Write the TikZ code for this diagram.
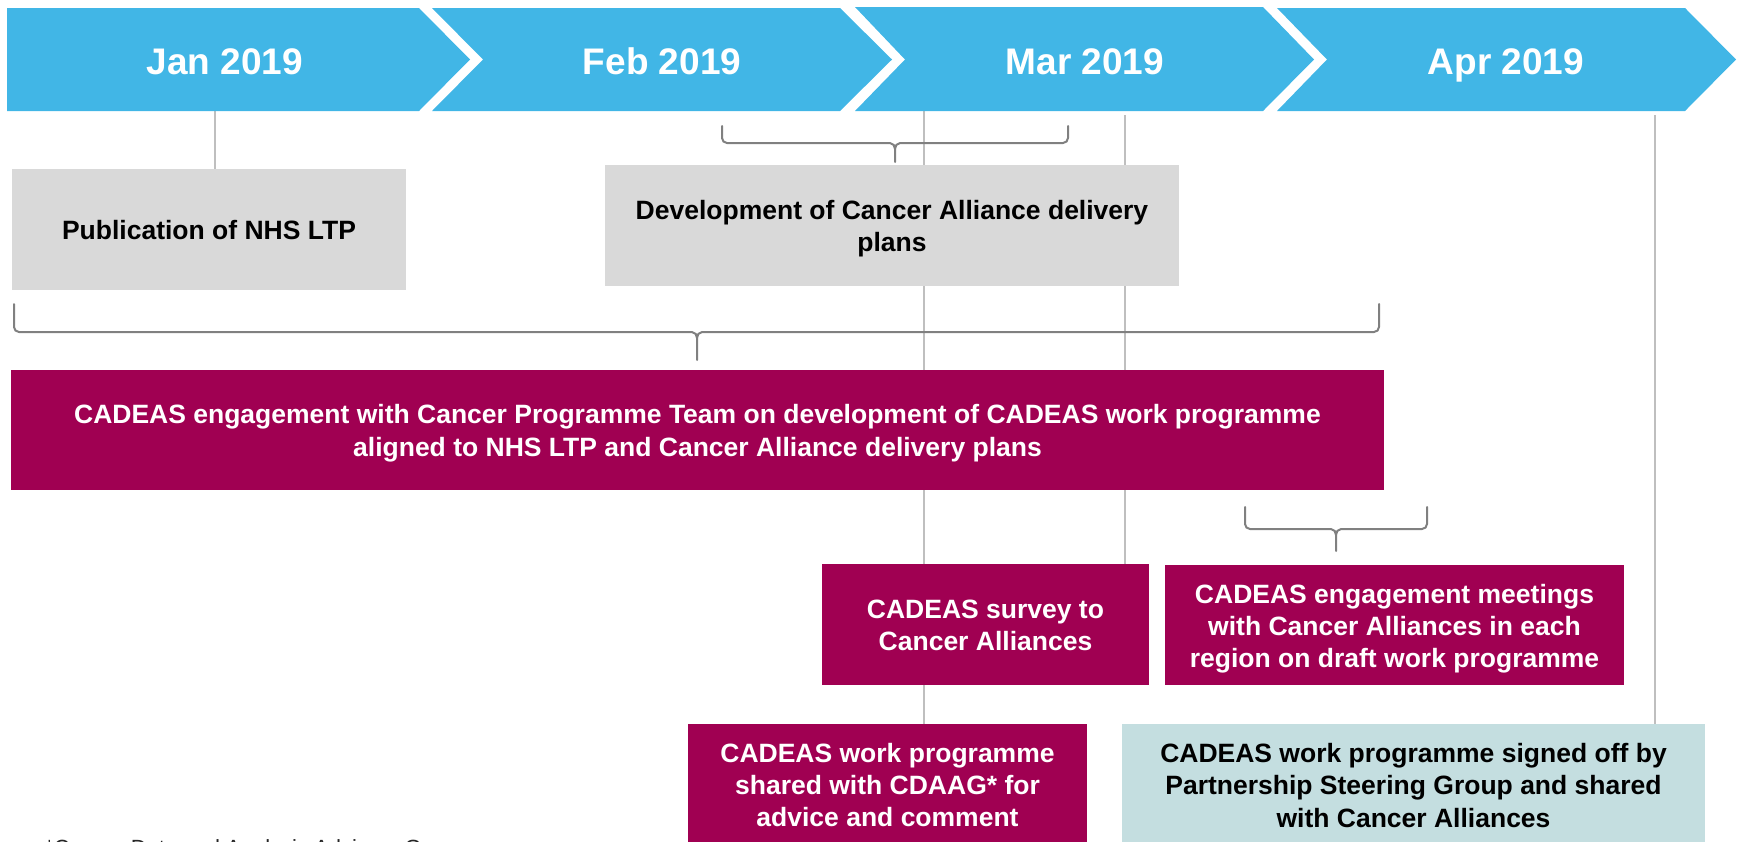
\documentclass[tikz,border=0pt]{standalone}
\usepackage{fontspec}
\setmainfont{Liberation Sans}
\pgfdeclarelayer{back}
\pgfsetlayers{back,main}

\definecolor{chevblue}{RGB}{65,182,230}
\definecolor{boxgrey}{RGB}{217,217,217}
\definecolor{raspberry}{RGB}{160,0,82}
\definecolor{paleteal}{RGB}{196,222,224}
\definecolor{guidegrey}{RGB}{191,191,191}
\definecolor{bracegrey}{RGB}{128,128,128}

% invisible strut giving a text line a fixed ascent and descent
\newcommand\linestrut{\rule[-5.6pt]{0pt}{32pt}}

\tikzset{
  month/.style={fill=chevblue, draw=none},
  monthlabel/.style={text=white, font=\fontsize{37}{44}\selectfont\bfseries, anchor=base, inner sep=0pt},
  box/.style={draw=none, inner sep=0pt, align=center, font=\fontsize{26.5}{32}\selectfont\bfseries},
  greybox/.style={box, fill=boxgrey, text=black},
  darkbox/.style={box, fill=raspberry, text=white},
  palebox/.style={box, fill=paleteal, text=black},
  guide/.style={draw=guidegrey, line width=1.6pt},
  bracestyle/.style={draw=bracegrey, line width=2pt, line cap=round},
}

% horizontal curly bracket: left x, right x, tip x, top of ends, bar y, bottom of tip
\newcommand\bracepath[6]{%
  \draw[bracestyle] (#1,#4) -- (#1,#5-5) to[out=-90,in=180] (#1+5,#5) -- (#3-5,#5)
    to[out=0,in=90] (#3,#5+6) -- (#3,#6);
  \draw[bracestyle] (#2,#4) -- (#2,#5-5) to[out=-90,in=0] (#2-5,#5) -- (#3+5,#5)
    to[out=180,in=90] (#3,#5+6);
}

\begin{document}
\begin{tikzpicture}[x=1pt,y=-1pt]
\useasboundingbox (0,0) rectangle (1740,841);
\clip (0,0) rectangle (1740,841);

% month chevrons
\fill[month] (7,8) -- (419,8) -- (470,59.5) -- (419,111) -- (7,111) -- cycle;
\fill[month] (432,8) -- (840,8) -- (892,59.5) -- (840,111) -- (432,111) -- (483,59.5) -- cycle;
\fill[month] (855,7) -- (1263,7) -- (1314,59.5) -- (1263,111) -- (855,111) -- (905,59.5) -- cycle;
\fill[month] (1277,8) -- (1685,8) -- (1736,59.5) -- (1685,111) -- (1277,111) -- (1327,59.5) -- cycle;

\node[monthlabel] (jan) at (225,74) {Jan 2019};
\node[monthlabel] (feb) at (662,74) {Feb 2019};
\node[monthlabel] (mar) at (1085,74) {Mar 2019};
\node[monthlabel] (apr) at (1506,74) {Apr 2019};

% milestone boxes
\node[greybox, minimum width=394pt, minimum height=121pt] (ltp) at (209,229.5)
  {\linestrut Publication of NHS LTP\linestrut};
\node[greybox, minimum width=574pt, minimum height=121pt] (devplans) at (892,225.5)
  {\linestrut Development of Cancer Alliance delivery\\plans\linestrut};
\node[darkbox, minimum width=1373pt, minimum height=120pt] (engage) at (697.5,430)
  {\linestrut CADEAS engagement with Cancer Programme Team on development of CADEAS work programme\\aligned to NHS LTP and Cancer Alliance delivery plans\linestrut};
\node[darkbox, minimum width=327pt, minimum height=121pt] (survey) at (985.5,624.5)
  {\linestrut CADEAS survey to\\Cancer Alliances\linestrut};
\node[darkbox, minimum width=459pt, minimum height=120pt] (meetings) at (1394.5,625)
  {\linestrut CADEAS engagement meetings\\with Cancer Alliances in each\\region on draft work programme\linestrut};
\node[darkbox, minimum width=399pt, minimum height=121pt] (cdaag) at (887.5,784.5)
  {\linestrut CADEAS work programme\\shared with CDAAG* for\\advice and comment\linestrut};
\node[palebox, minimum width=583pt, minimum height=121pt] (signed) at (1413.5,784.5)
  {\linestrut CADEAS work programme signed off by\\Partnership Steering Group and shared\\with Cancer Alliances\linestrut};

% guide lines from the month bar, behind the boxes
\coordinate (janfoot) at (215,111);
\coordinate (febfoot) at (924,111);
\coordinate (marfoot) at (1125,115);
\coordinate (aprfoot) at (1655,115);
\begin{pgfonlayer}{back}
\draw[guide] (janfoot) -- (janfoot |- ltp.north);
\draw[guide] (febfoot) -- (febfoot |- cdaag.north);
\draw[guide] (marfoot) -- (marfoot |- survey.north);
\draw[guide] (aprfoot) -- (aprfoot |- signed.north);
\end{pgfonlayer}

% brackets grouping the periods
\bracepath{722}{1068}{895}{126}{143}{162}
\bracepath{14}{1379}{697}{304}{332}{360}
\bracepath{1245}{1427}{1336}{507}{529}{551}

% footnote, running off the lower edge
\node[font=\fontsize{22}{26}\selectfont, anchor=base west, inner sep=0pt, text=black!85] (note)
  at (45,855) {*Cancer Data and Analysis Advisory Group};
\end{tikzpicture}
\end{document}
